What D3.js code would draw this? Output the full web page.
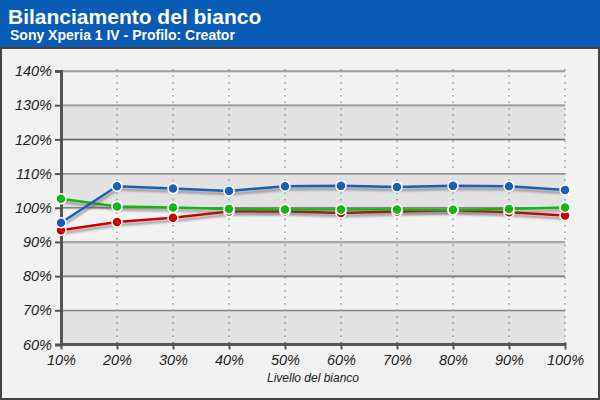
<!DOCTYPE html>
<html><head><meta charset="utf-8">
<script src="https://cdn.jsdelivr.net/npm/d3@7"></script>
<style>html,body{margin:0;padding:0;background:#fff}svg{display:block}</style>
</head><body>
<script>
const categories = ["10%","20%","30%","40%","50%","60%","70%","80%","90%","100%"];
const yTicks = [60,70,80,90,100,110,120,130,140];
const red   = [93.4, 95.8, 97.1, 98.9, 99.0, 98.5, 98.9, 99.3, 98.7, 97.7];
const green = [102.6, 100.4, 100.05, 99.6, 99.5, 99.5, 99.5, 99.4, 99.6, 100.1];
const blue  = [95.6, 106.3, 105.6, 104.9, 106.3, 106.4, 106.1, 106.4, 106.3, 105.2];
const series = [
  {name:"R", values:red, color:"#cc0000"},
  {name:"G", values:green, color:"#16b416"},
  {name:"B", values:blue, color:"#1a5fb4"}
];
const W=600,H=400;
const FONT="Liberation Sans, Arial, sans-serif";
const svg=d3.select("body").append("svg").attr("width",W).attr("height",H);
const defs=svg.append("defs");
const f=defs.append("filter").attr("id","sh").attr("x","-10%").attr("y","-50%").attr("width","120%").attr("height","200%");
f.append("feDropShadow").attr("dx",1).attr("dy",3).attr("stdDeviation",1.3).attr("flood-color","#555").attr("flood-opacity",0.55);

// background frame
svg.append("rect").attr("x",0).attr("y",0).attr("width",W).attr("height",H).attr("fill","#444");
svg.append("rect").attr("x",0).attr("y",0).attr("width",W).attr("height",47).attr("fill","#0a5bb5");
svg.append("rect").attr("x",2).attr("y",49).attr("width",W-4).attr("height",H-51).attr("fill","#f2f2f2");
svg.append("text").attr("x",8).attr("y",24).attr("fill","#fff").attr("font-family",FONT).attr("font-weight","bold").attr("font-size",21).text("Bilanciamento del bianco");
svg.append("text").attr("x",10).attr("y",40).attr("fill","#fff").attr("font-family",FONT).attr("font-weight","bold").attr("font-size",14).text("Sony Xperia 1 IV - Profilo: Creator");

const x=d3.scalePoint().domain(categories).range([61,565]);
const y=d3.scaleLinear().domain([60,140]).range([344.5,71]);

const g=svg.append("g");
// bands
for(let i=0;i<yTicks.length-1;i++){
  const lo=yTicks[i],hi=yTicks[i+1];
  g.append("rect").attr("x",61).attr("width",565-61).attr("y",y(hi)).attr("height",y(lo)-y(hi))
   .attr("fill", i%2===0 ? "#e2e2e2" : "#f2f2f2");
}
// horizontal grid
yTicks.forEach((t,i)=>{
  g.append("line").attr("x1",61).attr("x2",565).attr("y1",y(t)+1).attr("y2",y(t)+1).attr("stroke","#bbb").attr("stroke-width",1);
  g.append("line").attr("x1",61).attr("x2",565).attr("y1",y(t)).attr("y2",y(t)).attr("stroke", i%2===0?"#666":"#888").attr("stroke-width",1.2);
});
// vertical dotted grid
categories.slice(1).forEach(c=>{
  g.append("line").attr("x1",x(c)).attr("x2",x(c)).attr("y1",y(140)-2).attr("y2",y(60)+2)
   .attr("stroke","#999").attr("stroke-width",1.5).attr("stroke-dasharray","1.5,5");
});
// axes
const yAxis=d3.axisLeft(y).tickValues(yTicks).tickFormat(d=>d+"%").tickSize(6).tickPadding(3);
const ya=svg.append("g").attr("transform","translate(61,0)").call(yAxis);
ya.select(".domain").attr("stroke","#555").attr("stroke-width",3);
ya.selectAll(".tick line").attr("stroke","#555").attr("stroke-width",2);
ya.selectAll("text").attr("font-family",FONT).attr("font-style","italic").attr("font-size",14.5).attr("fill","#222");
const xAxis=d3.axisBottom(x).tickSize(5).tickPadding(5);
const xa=svg.append("g").attr("transform","translate(0,344.5)").call(xAxis);
xa.select(".domain").attr("stroke","#555").attr("stroke-width",3).attr("d","M61,0H565");
xa.selectAll(".tick line").attr("stroke","#555").attr("stroke-width",2).attr("y1",-2);
xa.selectAll("text").attr("font-family",FONT).attr("font-style","italic").attr("font-size",14.5).attr("fill","#222");
svg.append("text").attr("x",313).attr("y",382).attr("text-anchor","middle").attr("font-family",FONT).attr("font-style","italic").attr("font-size",12).attr("fill","#222").text("Livello del bianco");

// series
const line=d3.line().x((d,i)=>x(categories[i])).y(d=>y(d));
series.forEach(s=>{
  svg.append("path").datum(s.values).attr("d",line).attr("fill","none").attr("stroke",s.color).attr("stroke-width",2.5).attr("filter","url(#sh)");
});
series.forEach(s=>{
  svg.append("g").selectAll("circle").data(s.values).join("circle")
    .attr("cx",(d,i)=>x(categories[i])).attr("cy",d=>y(d)).attr("r",5)
    .attr("fill",s.color).attr("stroke","#fff").attr("stroke-width",1.5);
});
</script>
</body></html>
